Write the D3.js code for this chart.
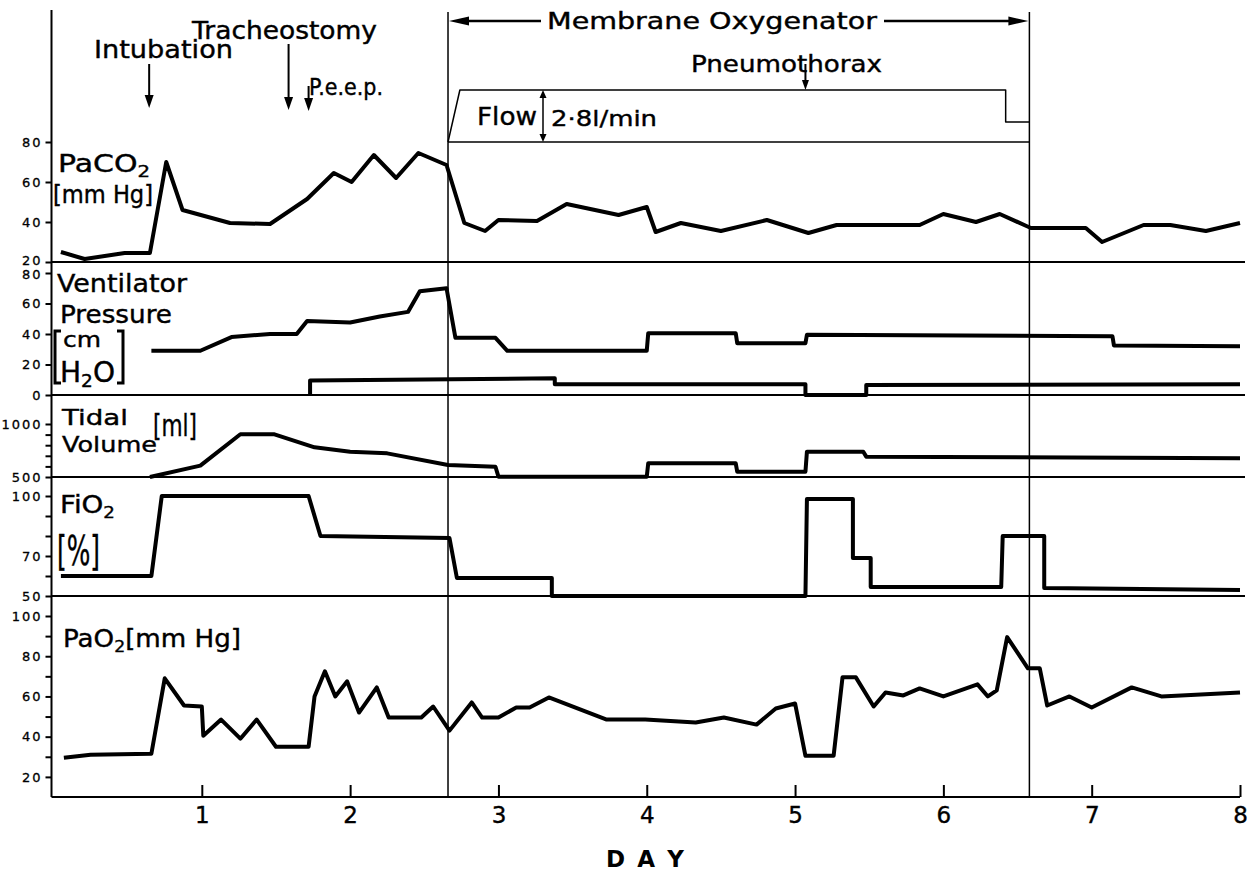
<!DOCTYPE html>
<html>
<head>
<meta charset="utf-8">
<script src="https://cdn.jsdelivr.net/npm/d3@7"></script>
<style>
body { margin: 0; background: #fff; }
svg text { font-family: "DejaVu Sans", sans-serif; fill: #000; }
</style>
</head>
<body>
<script>
// ---- data (x = day) ----
const dayTicks = [1, 2, 3, 4, 5, 6, 7, 8];
const oxyStart = 2.66, oxyEnd = 6.58;

const eventNames = ["Intubation", "Tracheostomy", "P.e.e.p.", "Pneumothorax"];
const eventDays = [0.645, 1.585, 1.72, 5.07];

const flowDays = [2.66, 2.74, 6.42, 6.42, 6.58];
const flowVals = [0, 2.8, 2.8, 1.08, 1.08];

const paco2Days = [0.05, 0.21, 0.48, 0.65, 0.76, 0.87, 1.19, 1.46, 1.71, 1.89, 2.01, 2.16, 2.31, 2.46, 2.65,
  2.77, 2.91, 3.0, 3.26, 3.46, 3.81, 4.0, 4.06, 4.23, 4.5, 4.81, 5.09, 5.28, 5.84, 6.0, 6.22, 6.38, 6.56,
  6.59, 6.96, 7.07, 7.35, 7.53, 7.77, 8.0];
const paco2Vals = [25, 21.5, 24.5, 24.5, 70, 46, 39.5, 39, 51.5, 64.5, 60, 73.5, 62, 74.5, 68.5,
  39.5, 35.5, 41, 40.5, 49, 43.5, 47.5, 35, 39.5, 35.5, 41, 34.5, 38.5, 38.5, 44, 40, 44, 38,
  37, 37, 30, 38.5, 38.5, 35.5, 39.5];

const ventDays = [0.66, 0.99, 1.2, 1.46, 1.64, 1.71, 2.0, 2.2, 2.39, 2.47, 2.65, 2.71, 2.98, 3.06, 4.0,
  4.01, 4.6, 4.61, 5.07, 5.08, 7.14, 7.15, 8.0];
const ventVals = [29, 29, 38, 40, 40, 48.5, 47.5, 51.5, 54.5, 68, 70, 37.5, 37.5, 29, 29,
  40.5, 40.5, 34, 34, 39.5, 38.5, 32.5, 32];

const peepDays = [1.73, 1.73, 3.38, 3.38, 5.07, 5.07, 5.48, 5.48, 8.0];
const peepVals = [0, 9.5, 11, 7, 7, 0, 0, 6.5, 7];

const tidalDays = [0.65, 0.99, 1.26, 1.49, 1.76, 2.0, 2.25, 2.66, 2.98, 3.0, 4.0, 4.01, 4.6, 4.61,
  5.07, 5.08, 5.46, 5.48, 8.0];
const tidalVals = [500, 607, 903, 903, 780, 739, 723, 613, 597, 503, 503, 629, 629, 550,
  550, 739, 739, 692, 676];

const fio2Days = [0.05, 0.66, 0.73, 1.72, 1.8, 2.67, 2.72, 3.36, 3.36, 5.07, 5.08, 5.39, 5.39, 5.51,
  5.51, 6.39, 6.4, 6.68, 6.68, 8.0];
const fio2Vals = [60, 60, 100, 100, 80, 79, 59, 59, 50, 50, 98.5, 98.5, 69, 69,
  54.5, 54.5, 80, 80, 54, 53];

const pao2Days = [0.07, 0.25, 0.66, 0.75, 0.88, 1.0, 1.01, 1.13, 1.26, 1.37, 1.5, 1.72, 1.76, 1.83, 1.9,
  1.98, 2.06, 2.18, 2.26, 2.48, 2.56, 2.67, 2.82, 2.89, 3.0, 3.12, 3.21, 3.34, 3.73, 3.99, 4.33, 4.52,
  4.74, 4.87, 5.0, 5.07, 5.26, 5.32, 5.41, 5.53, 5.61, 5.73, 5.84, 6.0, 6.23, 6.3, 6.36, 6.43, 6.57,
  6.65, 6.7, 6.85, 7.0, 7.27, 7.47, 8.0];
const pao2Vals = [29.5, 31, 31.5, 69, 55.5, 55, 40.5, 48.5, 39, 48.5, 35, 35, 60, 72.5, 60,
  67.5, 52, 64.5, 49.5, 49.5, 55, 43, 57, 49.5, 49.5, 54.5, 54.5, 59.5, 48.5, 48.5, 47, 49.5,
  46, 54, 56.5, 30.5, 30.5, 69.5, 69.5, 55, 62, 60.5, 64, 60, 66, 60, 63, 89.5, 74,
  74, 55.5, 60, 54.5, 64.5, 60, 62];

const zip = (ds, vs) => ds.map((d, i) => ({day: d, val: vs[i]}));

const width = 1248, height = 874;
const x = d3.scaleLinear([0, 8], [53.5, 1240]);
const yCO2 = d3.scaleLinear([20, 80], [262, 142]);
const yFlow = d3.scaleLinear([0, 2.8], [142, 90]);
const yVent = d3.scaleLinear([0, 80], [395, 273]);
const yTid = d3.scaleLinear([500, 1000], [477, 424]);
const yFi = d3.scaleLinear([50, 100], [596, 496]);
const yO2 = d3.scaleLinear([10, 100], [797, 616]);
const yTop = 10, yBottom = yO2(10);
const axisX = x(0) - 2;

const svg = d3.select("body").append("svg")
  .attr("width", width)
  .attr("height", height);

// frame: left axis, panel separators, oxygenator period
svg.append("line").attr("x1", axisX).attr("x2", axisX).attr("y1", yTop).attr("y2", yBottom)
  .attr("stroke", "#000").attr("stroke-width", 2);
[yCO2(20), yVent(0), yTid(500), yFi(50)].forEach(yy => {
  svg.append("line").attr("x1", axisX).attr("x2", x(8) + 5).attr("y1", yy).attr("y2", yy)
    .attr("stroke", "#000").attr("stroke-width", 2);
});
[oxyStart, oxyEnd].forEach(d => {
  svg.append("line").attr("x1", x(d)).attr("x2", x(d)).attr("y1", yTop + 2).attr("y2", yBottom)
    .attr("stroke", "#000").attr("stroke-width", 1.5);
});

// bottom axis
const gx = svg.append("g")
  .attr("transform", `translate(0,${yBottom})`)
  .call(d3.axisBottom(x).tickValues(dayTicks).tickSizeInner(-12).tickSizeOuter(0).tickPadding(10));
gx.select(".domain").attr("stroke-width", 2).attr("d", `M${axisX},0H${x(8)}`);
gx.selectAll(".tick line").attr("stroke-width", 2);
gx.selectAll("text").attr("font-size", 23).attr("font-family", "DejaVu Sans")
  .attr("stroke", "#000").attr("stroke-width", 0.4);

svg.append("text").attr("x", 645).attr("y", 867).attr("text-anchor", "middle")
  .attr("font-size", 23).attr("font-weight", "bold")
  .attr("textLength", 78).attr("lengthAdjust", "spacing").text("D A Y");

// left axes per panel
function yAxis(scale, values, labeled, shift) {
  const g = svg.append("g")
    .attr("transform", `translate(${axisX},0)`)
    .call(d3.axisLeft(scale).tickValues(values)
      .tickFormat(d => labeled.includes(d) ? d : "").tickSize(6).tickPadding(3));
  g.select(".domain").remove();
  g.selectAll(".tick line").attr("stroke-width", 2);
  g.selectAll("text").attr("font-size", 13).attr("font-family", "DejaVu Sans")
    .attr("letter-spacing", 2).attr("stroke", "#000").attr("stroke-width", 0.3);
  if (shift) g.selectAll(".tick text").filter(d => d in shift).attr("y", d => shift[d]);
}
yAxis(yCO2, [80, 60, 40, 20], [80, 60, 40, 20], {20: -2});
yAxis(yVent, [80, 60, 40, 20, 0], [80, 60, 40, 20, 0], {80: 1});
yAxis(yTid, [1000, 900, 800, 700, 600, 500], [1000, 500]);
yAxis(yFi, [100, 90, 80, 70, 60, 50], [100, 70, 50]);
yAxis(yO2, [100, 90, 80, 70, 60, 50, 40, 30, 20], [100, 80, 60, 40, 20]);

// data lines
function series(days, vals, yScale, w) {
  const line = d3.line().x(d => x(d.day)).y(d => yScale(d.val));
  svg.append("path")
    .attr("fill", "none")
    .attr("stroke", "#000")
    .attr("stroke-width", w)
    .attr("stroke-linejoin", "round")
    .attr("d", line(zip(days, vals)));
}
series(paco2Days, paco2Vals, yCO2, 4);
series(ventDays, ventVals, yVent, 4);
series(peepDays, peepVals, yVent, 4);
series(tidalDays, tidalVals, yTid, 4);
series(fio2Days, fio2Vals, yFi, 4);
series(pao2Days, pao2Vals, yO2, 4);

// oxygenator flow box
series(flowDays, flowVals, yFlow, 1.5);
svg.append("line").attr("x1", x(oxyStart)).attr("x2", x(oxyEnd))
  .attr("y1", yFlow(0)).attr("y2", yFlow(0)).attr("stroke", "#000").attr("stroke-width", 1.5);

// arrows
function head(tx, ty, dir, len, half) {
  let pts;
  if (dir === "down") pts = [[tx, ty], [tx - half, ty - len], [tx + half, ty - len]];
  if (dir === "up") pts = [[tx, ty], [tx - half, ty + len], [tx + half, ty + len]];
  if (dir === "left") pts = [[tx, ty], [tx + len, ty - half], [tx + len, ty + half]];
  if (dir === "right") pts = [[tx, ty], [tx - len, ty - half], [tx - len, ty + half]];
  svg.append("path").attr("d", d3.line()(pts) + "Z").attr("fill", "#000");
}
function vline(xx, y1, y2, w) {
  svg.append("line").attr("x1", xx).attr("x2", xx).attr("y1", y1).attr("y2", y2)
    .attr("stroke", "#000").attr("stroke-width", w);
}

// event arrows + labels
const evArrow = [[64, 108], [44, 110], [86, 111], [64, 90]];
eventDays.forEach((d, i) => {
  const xx = x(d);
  vline(xx, evArrow[i][0], evArrow[i][1] - 8, 2);
  head(xx, evArrow[i][1], "down", i === 3 ? 10 : 13, i === 3 ? 3.5 : 4.5);
});

function label(txt, xx, yy, size, len) {
  const t = svg.append("text").attr("x", xx).attr("y", yy).attr("font-size", size)
    .attr("stroke", "#000").attr("stroke-width", 0.4).text(txt);
  if (len) t.attr("textLength", len).attr("lengthAdjust", "spacingAndGlyphs");
  return t;
}
// label with a subscript part: parts = [[text, sub?], ...]
function subLabel(parts, xx, yy, size, len) {
  const t = svg.append("text").attr("x", xx).attr("y", yy).attr("font-size", size)
    .attr("stroke", "#000").attr("stroke-width", 0.4);
  let shifted = false;
  parts.forEach(([s, sub]) => {
    const dy = sub && !shifted ? 5 : (!sub && shifted ? -5 : 0);
    shifted = !!sub;
    t.append("tspan").attr("dy", dy).attr("font-size", sub ? size * 0.66 : size).text(s);
  });
  if (len) t.attr("textLength", len).attr("lengthAdjust", "spacingAndGlyphs");
  return t;
}
const evLabel = [[94, 58, 25, 139], [192, 39, 24, 185], [309, 95, 23, 74], [691, 72, 23, 191]];
eventNames.forEach((n, i) => label(n, evLabel[i][0], evLabel[i][1], evLabel[i][2], evLabel[i][3]));

// membrane oxygenator span arrow
const ay = 21;
svg.append("line").attr("x1", x(oxyStart) + 10).attr("x2", 541).attr("y1", ay).attr("y2", ay)
  .attr("stroke", "#000").attr("stroke-width", 2.5);
svg.append("line").attr("x1", 884).attr("x2", x(oxyEnd) - 10).attr("y1", ay).attr("y2", ay)
  .attr("stroke", "#000").attr("stroke-width", 2.5);
head(x(oxyStart) + 1, ay, "left", 20, 4.5);
head(x(oxyEnd) - 1, ay, "right", 20, 4.5);
label("Membrane Oxygenator", 547, 29, 23, 330);

// flow annotation
const flowArrowX = 543;
vline(flowArrowX, yFlow(2.8) + 6, yFlow(0) - 6, 1.5);
head(flowArrowX, yFlow(2.8), "up", 8, 3.5);
head(flowArrowX, yFlow(0), "down", 8, 3.5);
label("Flow", 477, 125, 24, 60);
label("2·8l/min", 551, 126, 22, 106);

// panel titles
subLabel([["PaCO"], ["2", true]], 58, 172, 24, 92);
label("[mm Hg]", 53, 203, 24, 100);

label("Ventilator", 57, 292, 24, 130);
label("Pressure", 60, 323, 24, 112);
label("cm", 63, 347, 22, 38);
subLabel([["H"], ["2", true], ["O"]], 60, 382, 28, 55);
const br = d3.path();
br.moveTo(61, 331); br.lineTo(55, 331); br.lineTo(55, 383); br.lineTo(61, 383);
br.moveTo(117, 331); br.lineTo(123, 331); br.lineTo(123, 383); br.lineTo(117, 383);
svg.append("path").attr("d", br.toString()).attr("fill", "none")
  .attr("stroke", "#000").attr("stroke-width", 3);

label("Tidal", 62, 425, 22, 66);
label("Volume", 62, 452, 22, 95);
label("[ml]", 153, 436, 30, 44);

subLabel([["FiO"], ["2", true]], 60, 513, 24, 55);
label("[%]", 57, 565, 40, 43);

subLabel([["PaO"], ["2", true], ["[mm Hg]"]], 63, 647, 25, 178);
</script>
</body>
</html>
